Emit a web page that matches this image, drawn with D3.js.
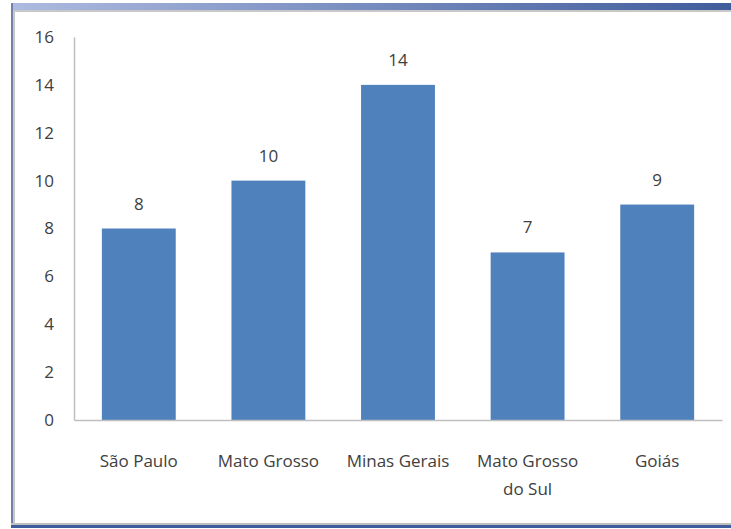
<!DOCTYPE html>
<html lang="pt">
<head>
<meta charset="UTF-8">
<title>Estados</title>
<script src="https://d3js.org/d3.v7.min.js"></script>
<style>
  body { margin: 0; background: #fff; }
  text { font-family: "Liberation Sans Narrow", "Open Sans", sans-serif; fill: #404040; }
</style>
</head>
<body>
<div id="chart"></div>
<script>
// data
const estados = ["São Paulo", "Mato Grosso", "Minas Gerais", "Mato Grosso do Sul", "Goiás"];
const valores = [8, 10, 14, 7, 9];
const yTicks = [0, 2, 4, 6, 8, 10, 12, 14, 16];

const W = 731, H = 529;
const svg = d3.select("#chart").append("svg")
    .attr("width", W)
    .attr("height", H);

// slide-like frame
const defs = svg.append("defs");
const grad = defs.append("linearGradient").attr("id", "topband");
grad.append("stop").attr("offset", "0%").attr("stop-color", "#aebbe0");
grad.append("stop").attr("offset", "100%").attr("stop-color", "#3f5c9c");

svg.append("rect").attr("x", 11).attr("y", 3).attr("width", W - 11).attr("height", 7)
    .attr("fill", "url(#topband)");
svg.append("rect").attr("x", 11).attr("y", 10).attr("width", W - 11).attr("height", 2)
    .attr("fill", "#c8c8c8");
svg.append("rect").attr("x", 11).attr("y", 3).attr("width", 2).attr("height", 524)
    .attr("fill", "#7282ac");
svg.append("rect").attr("x", 13).attr("y", 10).attr("width", 2).attr("height", 515)
    .attr("fill", "#c8c8c8");
svg.append("rect").attr("x", 11).attr("y", 523).attr("width", W - 11).attr("height", 2)
    .attr("fill", "#c0c0c0");
svg.append("rect").attr("x", 11).attr("y", 525).attr("width", W - 11).attr("height", 3)
    .attr("fill", "#3f5c9c");

const x0 = 74, x1 = 722, yTop = 37, yBot = 420;

const x = d3.scaleBand()
    .domain(estados)
    .range([x0, x1])
    .paddingInner(0.43)
    .paddingOuter(0.215);

const y = d3.scaleLinear()
    .domain([0, 16])
    .range([yBot, yTop]);

// y axis
const yAxis = svg.append("g")
    .attr("transform", `translate(${x0},0)`)
    .call(d3.axisLeft(y).tickValues(yTicks).tickSize(0).tickPadding(20));
yAxis.select(".domain").attr("stroke", "#bfbfbf").attr("stroke-width", 1.5);
yAxis.selectAll("text").style("font-size", "17px").attr("fill", "#404040");

// bars
svg.selectAll("rect.bar")
    .data(valores)
    .join("rect")
    .attr("class", "bar")
    .attr("x", (d, i) => x(estados[i]))
    .attr("y", d => y(d))
    .attr("width", x.bandwidth())
    .attr("height", d => y(0) - y(d))
    .attr("fill", "#4f81bd");

// x axis
const xAxis = svg.append("g")
    .attr("transform", `translate(0,${yBot})`)
    .call(d3.axisBottom(x).tickSize(0).tickPadding(0).tickFormat(""));
xAxis.select(".domain").attr("stroke", "#bfbfbf").attr("stroke-width", 1.5);

// category labels (wrap long one)
const lines = { "Mato Grosso do Sul": ["Mato Grosso", "do Sul"] };
svg.selectAll("text.cat")
    .data(estados)
    .join("text")
    .attr("class", "cat")
    .attr("text-anchor", "middle")
    .style("font-size", "17px")
    .each(function(d) {
        const t = d3.select(this);
        const parts = lines[d] || [d];
        parts.forEach((p, k) => {
            t.append("tspan")
                .attr("x", x(d) + x.bandwidth() / 2)
                .attr("y", yBot + 47 + k * 28)
                .text(p);
        });
    });

// value labels
svg.selectAll("text.val")
    .data(valores)
    .join("text")
    .attr("class", "val")
    .attr("text-anchor", "middle")
    .attr("x", (d, i) => x(estados[i]) + x.bandwidth() / 2)
    .attr("y", d => y(d) - 19)
    .style("font-size", "17px")
    .text(d => d);
</script>
</body>
</html>
